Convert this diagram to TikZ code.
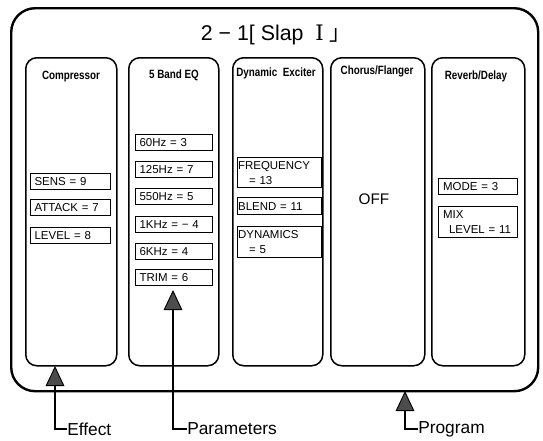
\documentclass[tikz,border=0pt]{standalone}
\usepackage{fontspec}
\setmainfont{Liberation Sans}
\newfontfamily\narrowf[FakeStretch=0.82]{Liberation Sans}
\newfontfamily\cjkf{Noto Sans CJK JP}
\newfontfamily\romf{DejaVu Serif}
\usetikzlibrary{arrows.meta,calc}
\newlength{\pxu}\setlength{\pxu}{0.75pt}
\begin{document}
\begin{tikzpicture}[x=0.75pt,y=-0.75pt,
  frame/.style={draw,line width=2.4\pxu,rounded corners=24\pxu,anchor=north west,inner sep=0,
    minimum width=527\pxu,minimum height=383\pxu},
  col/.style={draw,line width=1.5\pxu,rounded corners=11\pxu,anchor=north west,inner sep=0,
    minimum height=308\pxu},
  hdr/.style={font=\narrowf\bfseries\fontsize{9}{11}\selectfont,inner sep=0},
  pbox/.style={draw,line width=1.2\pxu,anchor=north west,inner ysep=1\pxu,
    font=\fontsize{8.6}{11.25}\selectfont,align=left,text width=#1},
  lbl/.style={font=\fontsize{13}{15}\selectfont,anchor=west,inner sep=0},
  ptr/.style={line width=1.8pt,
    -{Triangle[width=14pt,length=15pt,line width=0.7pt,fill=black!70]}}]
\useasboundingbox (0,0) rectangle (543,440);

% outer frame
\node[frame] (frame) at (10,7) {};
\node[font=\fontsize{16}{18}\selectfont,inner sep=0] (title) at (276,35)
  {2 − 1[ Slap\ \ {\romf Ⅰ}\ {\cjkf 」}};

% effect columns
\node[col,minimum width=91\pxu] (comp) at (25,57) {};
\node[col,minimum width=90\pxu] (eq) at (128,57) {};
\node[col,minimum width=90\pxu] (exc) at (232,57) {};
\node[col,minimum width=94\pxu] (cho) at (330,57) {};
\node[col,minimum width=93\pxu] (rev) at (431,57) {};

\node[hdr] (compT) at (71,77) {Compressor};
\node[hdr] (eqT) at (174,75) {5 Band EQ};
\node[hdr] (excT) at (276,73) {Dynamic\ \ Exciter};
\node[hdr] (choT) at (377,71) {Chorus/Flanger};
\node[hdr] (revT) at (476,76) {Reverb/Delay};

% compressor parameters
\node[pbox=72\pxu,inner xsep=4\pxu,minimum height=16\pxu] (sens) at (30,173) {SENS = 9};
\node[pbox=72\pxu,inner xsep=4\pxu,minimum height=16\pxu] (attack) at (30,199) {ATTACK = 7};
\node[pbox=72\pxu,inner xsep=4\pxu,minimum height=16\pxu] (level) at (30,227) {LEVEL = 8};

% EQ parameters
\node[pbox=69\pxu,inner xsep=4\pxu,minimum height=16\pxu] (hz60) at (135,134) {60Hz = 3};
\node[pbox=69\pxu,inner xsep=4\pxu,minimum height=16\pxu] (hz125) at (135,161) {125Hz = 7};
\node[pbox=69\pxu,inner xsep=4\pxu,minimum height=16\pxu] (hz550) at (135,188) {550Hz = 5};
\node[pbox=69\pxu,inner xsep=4\pxu,minimum height=16\pxu] (khz1) at (135,216) {1KHz = − 4};
\node[pbox=69\pxu,inner xsep=4\pxu,minimum height=16\pxu] (khz6) at (135,243) {6KHz = 4};
\node[pbox=69\pxu,inner xsep=4\pxu,minimum height=16\pxu] (trim) at (135,269) {TRIM = 6};

% exciter parameters
\node[pbox=83\pxu,inner xsep=0.5\pxu,minimum height=30\pxu] (freq) at (237,157)
  {FREQUENCY\\\hspace*{11\pxu}= 13};
\node[pbox=83\pxu,inner xsep=0.5\pxu,minimum height=17\pxu] (blend) at (237,197) {BLEND = 11};
\node[pbox=83\pxu,inner xsep=0.5\pxu,minimum height=31\pxu] (dyn) at (237,226)
  {DYNAMICS\\\hspace*{11\pxu}= 5};

% chorus
\node[font=\fontsize{11.5}{13}\selectfont,inner sep=0] (off) at (374,199) {OFF};

% reverb parameters
\node[pbox=70\pxu,inner xsep=4.5\pxu,minimum height=16\pxu] (mode) at (438,178) {MODE = 3};
\node[pbox=70\pxu,inner xsep=4.5\pxu,minimum height=31\pxu] (mix) at (438,206)
  {MIX\\\hspace*{6\pxu}LEVEL = 11};

% callouts
\node[lbl] (effect) at (67,429) {Effect};
\node[lbl] (params) at (187,429) {Parameters};
\node[lbl] (program) at (418,429) {Program};

\coordinate (effTip) at (55,366);
\coordinate (parTip) at (173,290);
\coordinate (progTip) at (405,391);

\draw[ptr] (effect.west) -| (effTip);
\draw[ptr] (params.west) -| (parTip);
\draw[ptr] (program.west) -| (progTip);
\end{tikzpicture}
\end{document}
